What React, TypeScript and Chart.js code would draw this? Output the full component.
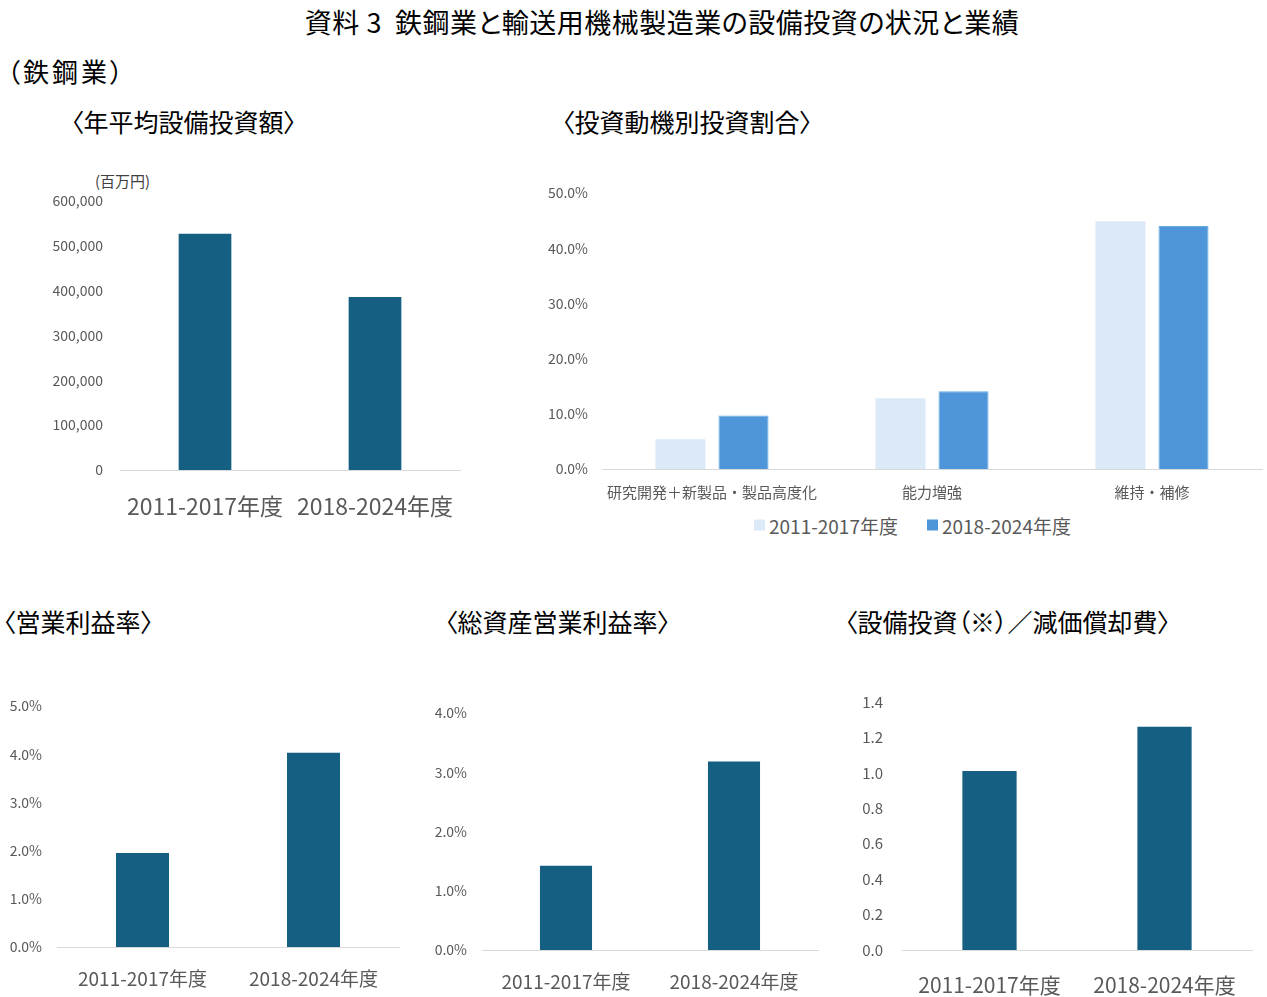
import React, { useEffect, useRef } from "react";
import { Chart, registerables } from "chart.js";

Chart.register(...registerables);

// values
const periods = ["2011-2017年度", "2018-2024年度"];
const investAmount = [527000, 386000]; // 百万円
const motiveCategories = ["研究開発＋新製品・製品高度化", "能力増強", "維持・補修"];
const motiveEarly = [5.4, 12.8, 44.9];
const motiveLate = [9.7, 14.1, 44.0];
const operatingMargin = [1.95, 4.03];
const returnOnAssets = [1.42, 3.18];
const capexToDepreciation = [1.01, 1.26];

const FONT = "'Noto Sans CJK JP', 'Noto Sans', sans-serif";
const TICK = "#595959";
const TEAL = "#156082";
const PALE = "#DCEAF7";
const BLUE = "#4E95D9";

type Area = { l: number; t: number; r: number; b: number };

type PanelProps = {
  area: Area;
  yW: number;
  xH: number;
  labels: string[];
  datasets: any[];
  yMax: number;
  yStep: number;
  fmt: (v: number) => string;
  yPad: number;
  yFont: number;
  xFont: number;
  xPad: number;
  catPct?: number;
  barPct?: number;
};

function BarPanel(p: PanelProps) {
  const ref = useRef<HTMLCanvasElement>(null);
  // generous padding so the tick-label padding never pushes the plot area in
  const padTop = 36;
  const padRight = 30;

  useEffect(() => {
    if (!ref.current) return;
    const chart = new Chart(ref.current, {
      type: "bar",
      data: { labels: p.labels, datasets: p.datasets },
      options: {
        animation: false,
        responsive: true,
        maintainAspectRatio: false,
        layout: { padding: { top: padTop, right: padRight, left: 0, bottom: 0 } },
        datasets: {
          bar: {
            categoryPercentage: p.catPct ?? 0.62,
            barPercentage: p.barPct ?? 0.5,
          },
        },
        plugins: { legend: { display: false }, tooltip: { enabled: false } },
        scales: {
          x: {
            grid: { display: false, drawTicks: false },
            border: { display: true, color: "#D9D9D9", width: 1 },
            ticks: {
              color: TICK,
              font: { family: FONT, size: p.xFont },
              padding: p.xPad,
              maxRotation: 0,
              autoSkip: false,
            },
            afterFit: (s: any) => {
              s.height = p.xH;
            },
          },
          y: {
            min: 0,
            max: p.yMax,
            grid: { display: false, drawTicks: false },
            border: { display: false },
            ticks: {
              stepSize: p.yStep,
              color: TICK,
              font: { family: FONT, size: p.yFont },
              padding: p.yPad,
              callback: (v: any) => p.fmt(Number(v)),
            },
            afterFit: (s: any) => {
              s.width = p.yW;
            },
          },
        },
      },
    });
    return () => chart.destroy();
  }, []);

  const w = p.yW + (p.area.r - p.area.l) + padRight;
  const h = padTop + (p.area.b - p.area.t) + p.xH;
  return (
    <div
      style={{
        position: "absolute",
        left: p.area.l - p.yW,
        top: p.area.t - padTop,
        width: w,
        height: h,
      }}
    >
      <canvas ref={ref} />
    </div>
  );
}

function Label({ x, y, size, text, color = "#000", weight = 400, center = false, spacing = 0 }: any) {
  return (
    <div
      style={{
        position: "absolute",
        left: x,
        top: y,
        fontSize: size,
        color,
        fontWeight: weight,
        letterSpacing: spacing,
        whiteSpace: "pre",
        lineHeight: 1,
        fontFeatureSettings: '"palt"',
        transform: center ? "translate(-50%, -50%)" : "translateY(-50%)",
      }}
    >
      {text}
    </div>
  );
}

const pct = (v: number) => v.toFixed(1) + "%";

export default function App() {
  const teal = (data: number[]) => [
    { label: "値", data, backgroundColor: TEAL, borderWidth: 0 },
  ];

  return (
    <div
      style={{
        position: "absolute",
        left: 0,
        top: 0,
        width: 1267,
        height: 997,
        background: "#fff",
        fontFamily: FONT,
        overflow: "hidden",
      }}
    >
      <Label x={662} y={21} size={27} spacing={0.5} center text="資料 3  鉄鋼業と輸送用機械製造業の設備投資の状況と業績" />
      <Label x={7} y={71} size={26} spacing={3} text="（鉄鋼業）" />
      <Label x={71} y={121} size={25} text="〈年平均設備投資額〉" />
      <Label x={562} y={121} size={25} text="〈投資動機別投資割合〉" />
      <Label x={3} y={621} size={25} text="〈営業利益率〉" />
      <Label x={445} y={621} size={25} text="〈総資産営業利益率〉" />
      <Label x={845} y={621} size={25} text="〈設備投資（※）／減価償却費〉" />
      <Label x={95} y={180} size={15} color="#404040" text="(百万円)" />

      <BarPanel
        area={{ l: 120, t: 201, r: 460, b: 470 }}
        yW={80}
        xH={55}
        labels={periods}
        datasets={teal(investAmount)}
        yMax={600000}
        yStep={100000}
        fmt={(v) => v.toLocaleString("en-US")}
        yPad={17}
        yFont={14}
        xFont={23}
        xPad={22}
      />

      <BarPanel
        area={{ l: 602, t: 193, r: 1262, b: 469 }}
        yW={60}
        xH={36}
        labels={motiveCategories}
        datasets={[
          { label: "2011-2017年度", data: motiveEarly, backgroundColor: PALE, borderWidth: 0 },
          { label: "2018-2024年度", data: motiveLate, backgroundColor: BLUE, borderColor: "#62ACE6", borderWidth: 1 },
        ]}
        yMax={50}
        yStep={10}
        fmt={pct}
        yPad={14}
        yFont={14}
        xFont={15}
        xPad={14}
        catPct={0.573}
        barPct={0.794}
      />
      <div
        style={{
          position: "absolute",
          left: 754,
          top: 525,
          transform: "translateY(-50%)",
          display: "flex",
          alignItems: "center",
          fontSize: 19,
          color: TICK,
          whiteSpace: "nowrap",
          lineHeight: 1,
        }}
      >
        <span style={{ width: 11, height: 11, background: PALE, marginRight: 4 }} />
        <span>{"2011-2017年度"}</span>
        <span style={{ width: 11, height: 11, background: BLUE, marginLeft: 29, marginRight: 4 }} />
        <span>{"2018-2024年度"}</span>
      </div>

      <BarPanel
        area={{ l: 57, t: 706, r: 399, b: 947 }}
        yW={55}
        xH={45}
        labels={periods}
        datasets={teal(operatingMargin)}
        yMax={5}
        yStep={1}
        fmt={pct}
        yPad={15}
        yFont={14}
        xFont={19}
        xPad={20}
      />

      <BarPanel
        area={{ l: 482, t: 713, r: 818, b: 950 }}
        yW={55}
        xH={45}
        labels={periods}
        datasets={teal(returnOnAssets)}
        yMax={4}
        yStep={1}
        fmt={pct}
        yPad={15}
        yFont={14}
        xFont={19}
        xPad={20}
      />

      <BarPanel
        area={{ l: 902, t: 702, r: 1252, b: 950 }}
        yW={55}
        xH={46}
        labels={periods}
        datasets={teal(capexToDepreciation)}
        yMax={1.4}
        yStep={0.2}
        fmt={(v) => v.toFixed(1)}
        yPad={19}
        yFont={15}
        xFont={21}
        xPad={22}
      />
    </div>
  );
}
